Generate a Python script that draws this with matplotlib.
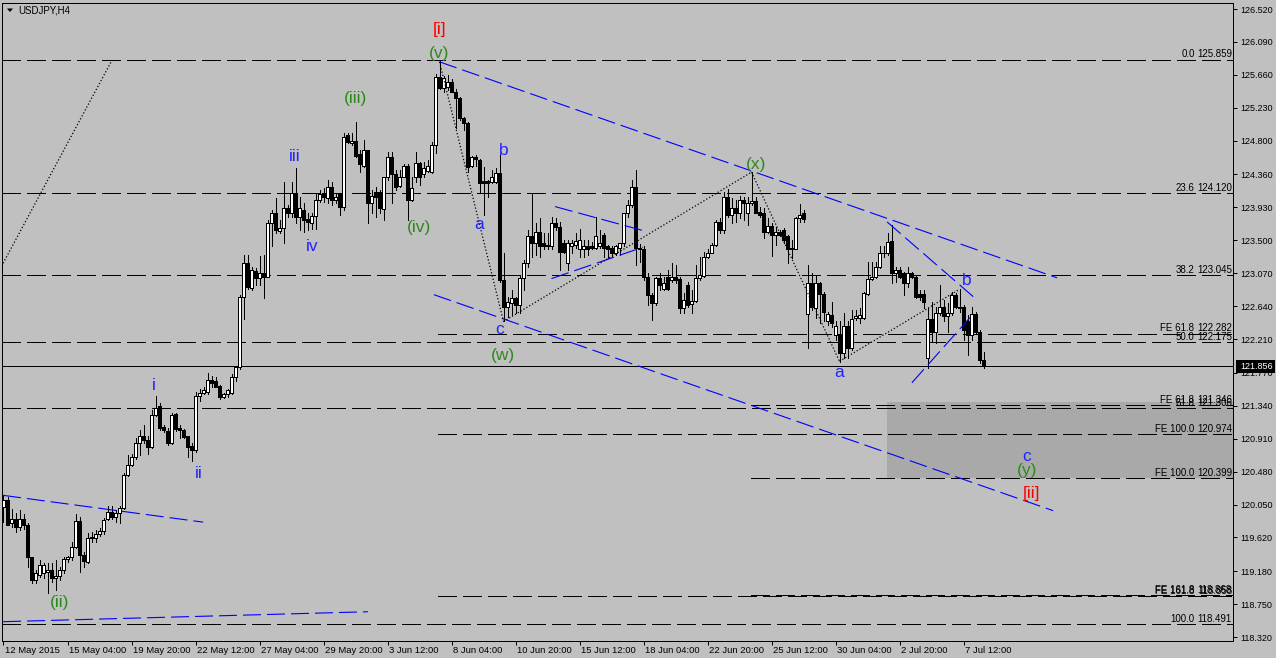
import matplotlib
matplotlib.use("Agg")
import matplotlib.pyplot as plt
import matplotlib.transforms as mtransforms
from matplotlib.patches import Rectangle, Polygon
import numpy as np

plt.rcParams['font.family'] = ['Liberation Sans', 'DejaVu Sans']
plt.rcParams['lines.scale_dashes'] = False

# USDJPY H4 candles, one per bar starting 12 May 2015 12:00
opens = [
    120.02, 120.11, 119.81, 119.86, 119.76, 119.86, 119.78, 119.36, 119.06, 119.13,
    119.16, 119.17, 119.19, 119.09, 119.12, 119.20, 119.34, 119.37, 119.50, 119.84,
    119.39, 119.30, 119.61, 119.61, 119.67, 119.71, 119.86, 119.95, 119.89, 119.94,
    120.01, 120.43, 120.56, 120.67, 120.85, 120.95, 120.89, 120.80, 121.22, 121.33,
    121.06, 121.01, 120.85, 121.23, 121.05, 121.02, 120.94, 120.81, 120.76, 121.47,
    121.51, 121.52, 121.68, 121.66, 121.60, 121.46, 121.49, 121.51, 121.71, 121.84,
    122.76, 123.20, 122.88, 123.10, 123.01, 123.07, 123.02, 123.73, 123.86, 123.62,
    123.66, 123.92, 123.86, 124.12, 123.81, 123.90, 123.78, 123.73, 123.82, 124.03,
    124.12, 124.05, 124.20, 124.03, 124.10, 123.94, 124.88, 124.77, 124.80, 124.63,
    124.47, 124.68, 123.99, 124.13, 124.13, 123.91, 124.32, 124.59, 124.36, 124.21,
    124.33, 124.47, 124.03, 124.33, 124.51, 124.36, 124.41, 124.39, 124.75, 125.63,
    125.49, 125.50, 125.57, 125.44, 125.36, 125.10, 125.03, 124.47, 124.59, 124.55,
    124.28, 124.28, 124.26, 124.26, 124.38, 122.98, 122.63, 122.68, 122.75, 122.66,
    123.01, 123.20, 123.55, 123.47, 123.61, 123.47, 123.44, 123.42, 123.72, 123.68,
    123.47, 123.20, 123.42, 123.44, 123.39, 123.38, 123.43, 123.43, 123.40, 123.42,
    123.57, 123.42, 123.40, 123.34, 123.40, 123.46, 123.85, 123.96, 124.20, 123.40,
    123.38, 123.02, 122.79, 122.68, 123.01, 122.86, 123.02, 122.98, 123.02, 122.99,
    122.62, 122.92, 122.67, 122.71, 123.01, 123.03, 123.28, 123.34, 123.44, 123.74,
    123.64, 124.07, 123.83, 123.92, 123.86, 124.03, 123.86, 123.99, 124.01, 123.87,
    123.85, 123.61, 123.69, 123.57, 123.61, 123.64, 123.55, 123.38, 123.39, 123.79,
    123.85, 122.54, 122.94, 122.62, 122.94, 122.80, 122.44, 122.53, 122.27, 122.28,
    122.03, 122.38, 122.09, 122.49, 122.49, 122.49, 122.80, 122.99, 123.02, 123.15,
    123.34, 123.33, 123.49, 123.07, 123.11, 123.07, 122.94, 123.07, 123.02, 122.80,
    122.80, 121.96, 122.47, 122.30, 122.55, 122.63, 122.51, 122.55, 122.79, 122.63,
    122.63, 122.45, 122.27, 122.54, 122.30, 121.94,
]
highs = [
    120.17, 120.15, 119.99, 119.94, 119.98, 119.93, 119.81, 119.36, 119.20, 119.33,
    119.28, 119.28, 119.29, 119.33, 119.24, 119.37, 119.38, 119.56, 119.92, 119.89,
    119.43, 119.68, 119.69, 119.72, 119.74, 119.88, 120.03, 120.03, 119.98, 120.03,
    120.46, 120.70, 120.71, 120.92, 121.02, 121.09, 120.95, 121.28, 121.47, 121.38,
    121.09, 121.05, 121.24, 121.24, 121.09, 121.03, 120.95, 120.85, 121.52, 121.56,
    121.59, 121.77, 121.73, 121.71, 121.61, 121.51, 121.56, 121.75, 121.85, 122.79,
    123.31, 123.31, 123.15, 123.14, 123.30, 123.31, 123.77, 123.89, 124.05, 123.77,
    124.26, 123.96, 124.26, 124.45, 124.07, 123.99, 123.86, 123.86, 124.10, 124.16,
    124.18, 124.29, 124.26, 124.10, 124.12, 124.90, 124.90, 124.90, 125.05, 124.68,
    124.81, 124.68, 124.16, 124.20, 124.16, 124.33, 124.65, 124.65, 124.42, 124.42,
    124.49, 124.49, 124.32, 124.65, 124.52, 124.52, 124.55, 124.78, 125.67, 125.86,
    125.65, 125.66, 125.60, 125.47, 125.37, 125.11, 125.05, 124.60, 124.62, 124.56,
    124.46, 124.29, 124.42, 124.45, 124.62, 123.34, 122.76, 122.85, 122.76, 123.05,
    123.24, 123.64, 124.12, 123.73, 123.79, 123.60, 123.60, 123.81, 123.79, 123.74,
    123.51, 123.51, 123.51, 123.60, 123.65, 123.51, 123.51, 123.48, 123.81, 123.64,
    123.60, 123.44, 123.42, 123.44, 123.47, 123.86, 124.03, 124.29, 124.42, 123.45,
    123.42, 123.07, 122.81, 123.02, 123.07, 123.02, 123.11, 123.20, 123.18, 123.02,
    122.81, 122.96, 122.85, 123.18, 123.28, 123.35, 123.38, 123.47, 123.77, 123.79,
    124.13, 124.17, 124.05, 124.03, 124.08, 124.07, 124.07, 124.39, 124.07, 123.94,
    123.92, 123.79, 123.73, 123.68, 123.64, 123.66, 123.57, 123.51, 123.81, 123.98,
    123.90, 123.18, 123.07, 123.05, 122.96, 122.83, 122.57, 122.70, 122.44, 122.44,
    122.55, 122.44, 122.59, 122.59, 122.62, 122.83, 123.22, 123.22, 123.22, 123.42,
    123.42, 123.60, 123.70, 123.15, 123.15, 123.09, 123.15, 123.09, 123.05, 122.85,
    122.85, 122.62, 122.70, 122.63, 122.92, 122.72, 122.68, 122.83, 122.81, 122.86,
    122.66, 122.53, 122.63, 122.57, 122.33, 122.04,
]
lows = [
    119.82, 119.78, 119.76, 119.69, 119.72, 119.73, 119.24, 119.02, 119.02, 119.11,
    119.09, 118.89, 119.04, 118.93, 119.06, 119.16, 119.30, 119.33, 119.48, 119.17,
    119.24, 119.29, 119.56, 119.56, 119.64, 119.66, 119.85, 119.86, 119.82, 119.81,
    119.99, 120.42, 120.55, 120.64, 120.70, 120.85, 120.71, 120.79, 121.20, 121.02,
    121.00, 120.83, 120.84, 121.01, 120.92, 120.92, 120.67, 120.62, 120.74, 121.40,
    121.49, 121.49, 121.59, 121.58, 121.43, 121.44, 121.46, 121.49, 121.66, 121.82,
    122.47, 122.86, 122.85, 122.92, 122.92, 122.75, 123.02, 123.42, 123.60, 123.60,
    123.47, 123.81, 123.81, 123.73, 123.64, 123.61, 123.64, 123.65, 123.65, 124.00,
    124.00, 123.99, 123.96, 123.99, 123.83, 123.90, 124.77, 124.75, 124.59, 124.39,
    124.46, 123.73, 123.86, 123.81, 123.86, 123.77, 124.29, 123.99, 124.16, 124.20,
    124.32, 123.77, 124.01, 124.26, 124.22, 124.33, 124.39, 124.38, 124.64, 125.48,
    125.44, 125.46, 125.43, 124.97, 125.07, 124.94, 124.39, 124.46, 124.47, 124.13,
    123.83, 124.07, 124.25, 124.25, 122.95, 122.44, 122.50, 122.53, 122.55, 122.55,
    122.85, 123.15, 123.28, 123.31, 123.28, 123.38, 123.38, 123.39, 123.64, 123.11,
    123.33, 123.11, 123.34, 123.40, 123.28, 123.28, 123.31, 123.38, 123.38, 123.40,
    123.28, 123.27, 123.28, 123.31, 123.31, 123.42, 123.81, 123.94, 123.18, 123.22,
    122.98, 122.66, 122.46, 122.66, 122.85, 122.85, 122.85, 122.96, 122.94, 122.55,
    122.55, 122.63, 122.55, 122.70, 122.98, 123.02, 123.27, 123.33, 123.42, 123.59,
    123.59, 123.81, 123.73, 123.74, 123.79, 123.77, 123.70, 123.96, 123.86, 123.81,
    123.53, 123.60, 123.30, 123.44, 123.55, 123.47, 123.20, 123.27, 123.38, 123.74,
    123.74, 122.10, 122.59, 122.49, 122.42, 122.44, 122.40, 122.37, 122.20, 121.91,
    121.96, 121.96, 122.07, 122.46, 122.42, 122.47, 122.79, 122.98, 123.01, 123.14,
    123.28, 123.31, 122.94, 122.96, 123.01, 122.79, 122.89, 123.01, 122.75, 122.72,
    122.62, 121.83, 122.17, 122.16, 122.53, 122.44, 122.30, 122.53, 122.62, 122.57,
    122.20, 122.00, 122.20, 122.29, 121.90, 121.83,
]
closes = [
    120.11, 119.78, 119.86, 119.76, 119.86, 119.78, 119.36, 119.06, 119.16, 119.26,
    119.26, 119.20, 119.09, 119.12, 119.19, 119.34, 119.37, 119.50, 119.84, 119.39,
    119.31, 119.61, 119.63, 119.67, 119.71, 119.85, 119.95, 119.89, 119.94, 120.01,
    120.43, 120.56, 120.67, 120.85, 120.95, 120.89, 120.80, 121.22, 121.31, 121.05,
    121.02, 120.85, 121.22, 121.04, 121.02, 120.93, 120.80, 120.76, 121.47, 121.51,
    121.54, 121.68, 121.64, 121.59, 121.46, 121.49, 121.55, 121.71, 121.84, 122.76,
    123.20, 122.89, 123.11, 123.01, 123.07, 123.02, 123.73, 123.86, 123.64, 123.66,
    123.92, 123.86, 124.12, 123.81, 123.92, 123.77, 123.74, 123.82, 124.03, 124.10,
    124.07, 124.20, 124.03, 124.07, 123.94, 124.85, 124.79, 124.80, 124.60, 124.49,
    124.68, 123.99, 124.08, 124.07, 123.92, 124.32, 124.59, 124.36, 124.20, 124.33,
    124.47, 124.03, 124.18, 124.51, 124.33, 124.45, 124.47, 124.75, 125.63, 125.49,
    125.62, 125.57, 125.44, 125.36, 125.10, 125.03, 124.46, 124.59, 124.56, 124.25,
    124.25, 124.25, 124.32, 124.38, 122.98, 122.63, 122.69, 122.75, 122.66, 123.01,
    123.20, 123.55, 123.47, 123.61, 123.42, 123.42, 123.42, 123.72, 123.68, 123.35,
    123.35, 123.46, 123.47, 123.49, 123.51, 123.43, 123.38, 123.40, 123.56, 123.47,
    123.40, 123.39, 123.34, 123.42, 123.46, 123.85, 123.96, 124.20, 123.40, 123.38,
    123.02, 122.79, 122.68, 123.01, 122.92, 122.94, 122.86, 123.02, 122.98, 122.62,
    122.72, 122.66, 122.71, 123.01, 123.05, 123.28, 123.34, 123.44, 123.74, 123.64,
    124.07, 123.83, 123.92, 123.86, 124.03, 123.99, 123.99, 124.01, 123.86, 123.83,
    123.61, 123.69, 123.57, 123.61, 123.57, 123.51, 123.38, 123.40, 123.79, 123.83,
    123.78, 122.94, 122.63, 122.94, 122.80, 122.57, 122.54, 122.42, 122.38, 122.03,
    122.38, 122.09, 122.47, 122.51, 122.53, 122.81, 122.99, 123.02, 123.15, 123.34,
    123.33, 123.48, 123.07, 123.11, 123.02, 122.94, 123.07, 123.02, 122.76, 122.76,
    122.69, 122.47, 122.30, 122.55, 122.63, 122.51, 122.55, 122.79, 122.63, 122.62,
    122.33, 122.27, 122.54, 122.30, 121.94, 121.856,
]

bid_price = 121.856

date_labels = ["12 May 2015", "15 May 04:00", "19 May 20:00", "22 May 12:00",
               "27 May 04:00", "29 May 20:00", "3 Jun 12:00", "8 Jun 04:00",
               "10 Jun 20:00", "15 Jun 12:00", "18 Jun 04:00", "22 Jun 20:00",
               "25 Jun 12:00", "30 Jun 04:00", "2 Jul 20:00", "7 Jul 12:00"]
bars_per_label = 16

price_ticks = [126.520, 126.090, 125.660, 125.230, 124.800, 124.360, 123.930,
               123.500, 123.070, 122.640, 122.210, 121.770, 121.340, 120.910,
               120.480, 120.050, 119.620, 119.180, 118.750, 118.320]

# fibo retracement 125.859 -> 118.491 (full width)
fib_names = ["0.0", "23.6", "38.2", "50.0", "61.8", "100.0"]
fib_prices = [125.859, 124.120, 123.045, 122.175, 121.306, 118.491]
# fibo expansions anchored at [i] top (bar 108.6) and at (x) top (bar 186.9)
fe1_start = 108.6
fe1_names = ["FE 61.8", "FE 100.0", "FE 161.8"]
fe1_prices = [122.282, 120.974, 118.858]
fe2_start = 186.9
fe2_names = ["FE 61.8", "FE 100.0", "FE 161.8"]
fe2_prices = [121.346, 120.399, 118.868]

# target zone
zone_start = 220.9
zone_low, zone_high = 120.40, 121.39

# blue dashed trend lines: (bar0, price0, bar1, price1)
blue_lines = [
    (109.0, 125.83, 263.4, 123.01),
    (107.6, 122.79, 262.4, 119.97),
    (220.9, 123.74, 243.4, 122.72),
    (227.1, 121.64, 241.6, 122.49),
    (-0.1, 120.17, 49.9, 119.82),
    (-0.1, 118.52, 91.1, 118.65),
    (137.9, 123.94, 160.4, 123.62),
    (137.0, 123.00, 159.9, 123.41),
]
# black dotted zigzag lines
dotted_lines = [
    (-0.1, 123.20, 26.9, 125.83),
    (109.0, 125.83, 125.0, 122.44),
    (125.0, 122.44, 187.0, 124.39),
    (187.0, 124.39, 209.0, 121.92),
    (209.0, 121.92, 239.0, 122.86),
]

GREEN = '#2C8A1C'
BLUE = '#2424FF'
RED = '#FF0000'
wave_labels = [
    ("[i]", 108.9, 126.246, RED), ("(v)", 108.9, 125.945, GREEN),
    ("(iii)", 87.9, 125.358, GREEN), ("(iv)", 103.9, 123.661, GREEN),
    ("iii", 72.8, 124.588, BLUE), ("iv", 77.05, 123.425, BLUE),
    ("i", 37.6, 121.610, BLUE), ("ii", 48.8, 120.461, BLUE),
    ("(ii)", 13.95, 118.768, GREEN),
    ("a", 118.95, 123.700, BLUE), ("b", 124.95, 124.679, BLUE),
    ("c", 123.95, 122.329, BLUE), ("(w)", 124.95, 122.002, GREEN),
    ("(x)", 188.05, 124.492, GREEN), ("a", 208.95, 121.771, BLUE),
    ("b", 240.8, 122.972, BLUE), ("c", 255.9, 120.683, BLUE),
    ("(y)", 255.9, 120.500, GREEN), ("[ii]", 256.9, 120.200, RED),
]

BG = '#C0C0C0'
W, H = 1276, 658
DASH = (0, (12.96, 4.32))
DOT = (0, (0.9, 1.5))
PX = 0.72  # one pixel in points

fig = plt.figure(figsize=(W / 100, H / 100), dpi=100, facecolor=BG)
left, top, right, bottom = 2.5, 2.5, 1233.0, 641.0
ax = fig.add_axes([left / W, 1 - bottom / H, (right - left) / W, (bottom - top) / H])
ax.set_facecolor(BG)
ax.set_xlim(-0.25, 307.375)
ax.set_ylim(118.268, 126.605)
xmax = 307.375


def fx(px):
    """pixel x -> axes fraction"""
    return (px - left) / (right - left)


ppx = (126.605 - 118.268) / (bottom - top)  # price per pixel

# candles
o = np.array(opens)
c = np.array(closes)
hi = np.array(highs)
lo = np.array(lows)
xs = np.arange(len(o))
ax.vlines(xs, lo, hi, colors='black', linewidth=PX, zorder=3, antialiased=False)
up = c >= o
body_lo = np.minimum(o, c)
body_h = np.maximum(np.abs(c - o), ppx * 0.8)
ax.bar(xs[up], body_h[up], bottom=body_lo[up], width=0.62, color='white',
       edgecolor='black', linewidth=PX, zorder=4, antialiased=False)
ax.bar(xs[~up], body_h[~up], bottom=body_lo[~up], width=0.62, color='black',
       edgecolor='black', linewidth=PX, zorder=4, antialiased=False)

# target zone rectangle
ax.add_patch(Rectangle((zone_start, zone_low), xmax - zone_start, zone_high - zone_low,
                       facecolor='#A9A9A9', edgecolor='none', zorder=0.5))

# horizontal levels
ytrans = ax.get_yaxis_transform()
for name, p in zip(fib_names, fib_prices):
    ax.plot([-0.25, xmax], [p, p], color='black', lw=PX, ls=DASH, zorder=2, antialiased=False)
for start, names, prices in ((fe1_start, fe1_names, fe1_prices), (fe2_start, fe2_names, fe2_prices)):
    for name, p in zip(names, prices):
        ax.plot([start, xmax], [p, p], color='black', lw=PX, ls=DASH, zorder=2, antialiased=False)
for name, p in (list(zip(fib_names, fib_prices)) + list(zip(fe1_names, fe1_prices))
                + list(zip(fe2_names, fe2_prices))):
    ax.text(fx(1194.5), p + 2.2 * ppx, name, transform=ytrans, ha='right', va='baseline',
            fontsize=7, color='black', zorder=6)
    ax.text(fx(1232), p + 2.2 * ppx, f"{p:.3f}", transform=ytrans, ha='right', va='baseline',
            fontsize=7, color='black', zorder=6)

# bid line
ax.axhline(bid_price, color='black', lw=PX, zorder=2, antialiased=False)

# trend lines
for x0, y0, x1, y1 in blue_lines:
    ax.plot([x0, x1], [y0, y1], color='#0000FF', lw=0.8, ls=DASH, zorder=5)
for x0, y0, x1, y1 in dotted_lines:
    ax.plot([x0, x1], [y0, y1], color='black', lw=0.9, ls=DOT, zorder=5)

# wave labels
for txt, bx, py, col in wave_labels:
    ax.text(bx, py, txt, ha='center', va='center', fontsize=12.5, color=col, zorder=7)

# axes styling
for s in ax.spines.values():
    s.set_color('black')
    s.set_linewidth(PX)

ax.yaxis.tick_right()
ax.set_yticks(price_ticks)
ax.set_yticklabels([f"{t:.3f}" for t in price_ticks])
ax.tick_params(axis='y', direction='out', length=3, width=PX, pad=2.2,
               labelsize=6.5, colors='black')
ax.set_xticks(np.arange(len(date_labels)) * bars_per_label)
ax.set_xticklabels(date_labels)
ax.tick_params(axis='x', direction='out', length=3, width=PX, pad=0.8,
               labelsize=6.8, colors='black')
offset = mtransforms.ScaledTranslation(1.5 / 100, 0, fig.dpi_scale_trans)
for lab in ax.get_xticklabels():
    lab.set_ha('left')
    lab.set_transform(lab.get_transform() + offset)

# bid price box on the right scale
ax.add_patch(Rectangle((fx(1235.5), bid_price - 6.5 * ppx), fx(1275.5) - fx(1235.5), 13 * ppx,
                       transform=ytrans, facecolor='black', edgecolor='none',
                       clip_on=False, zorder=10))
ax.text(fx(1240), bid_price, f"{bid_price:.3f}", transform=ytrans, ha='left', va='center',
        fontsize=6.5, color='white', zorder=11, clip_on=False)

# symbol caption
fig.text(18 / W, 1 - 10.5 / H, "USDJPY,H4", ha='left', va='center', fontsize=7, color='black')
fig.patches.append(Polygon([(7 / W, 1 - 8.5 / H), (13 / W, 1 - 8.5 / H), (10 / W, 1 - 12 / H)],
                           closed=True, transform=fig.transFigure, facecolor='black',
                           edgecolor='none'))

fig.savefig("out.png", dpi=100, facecolor=BG)
plt.close(fig)
